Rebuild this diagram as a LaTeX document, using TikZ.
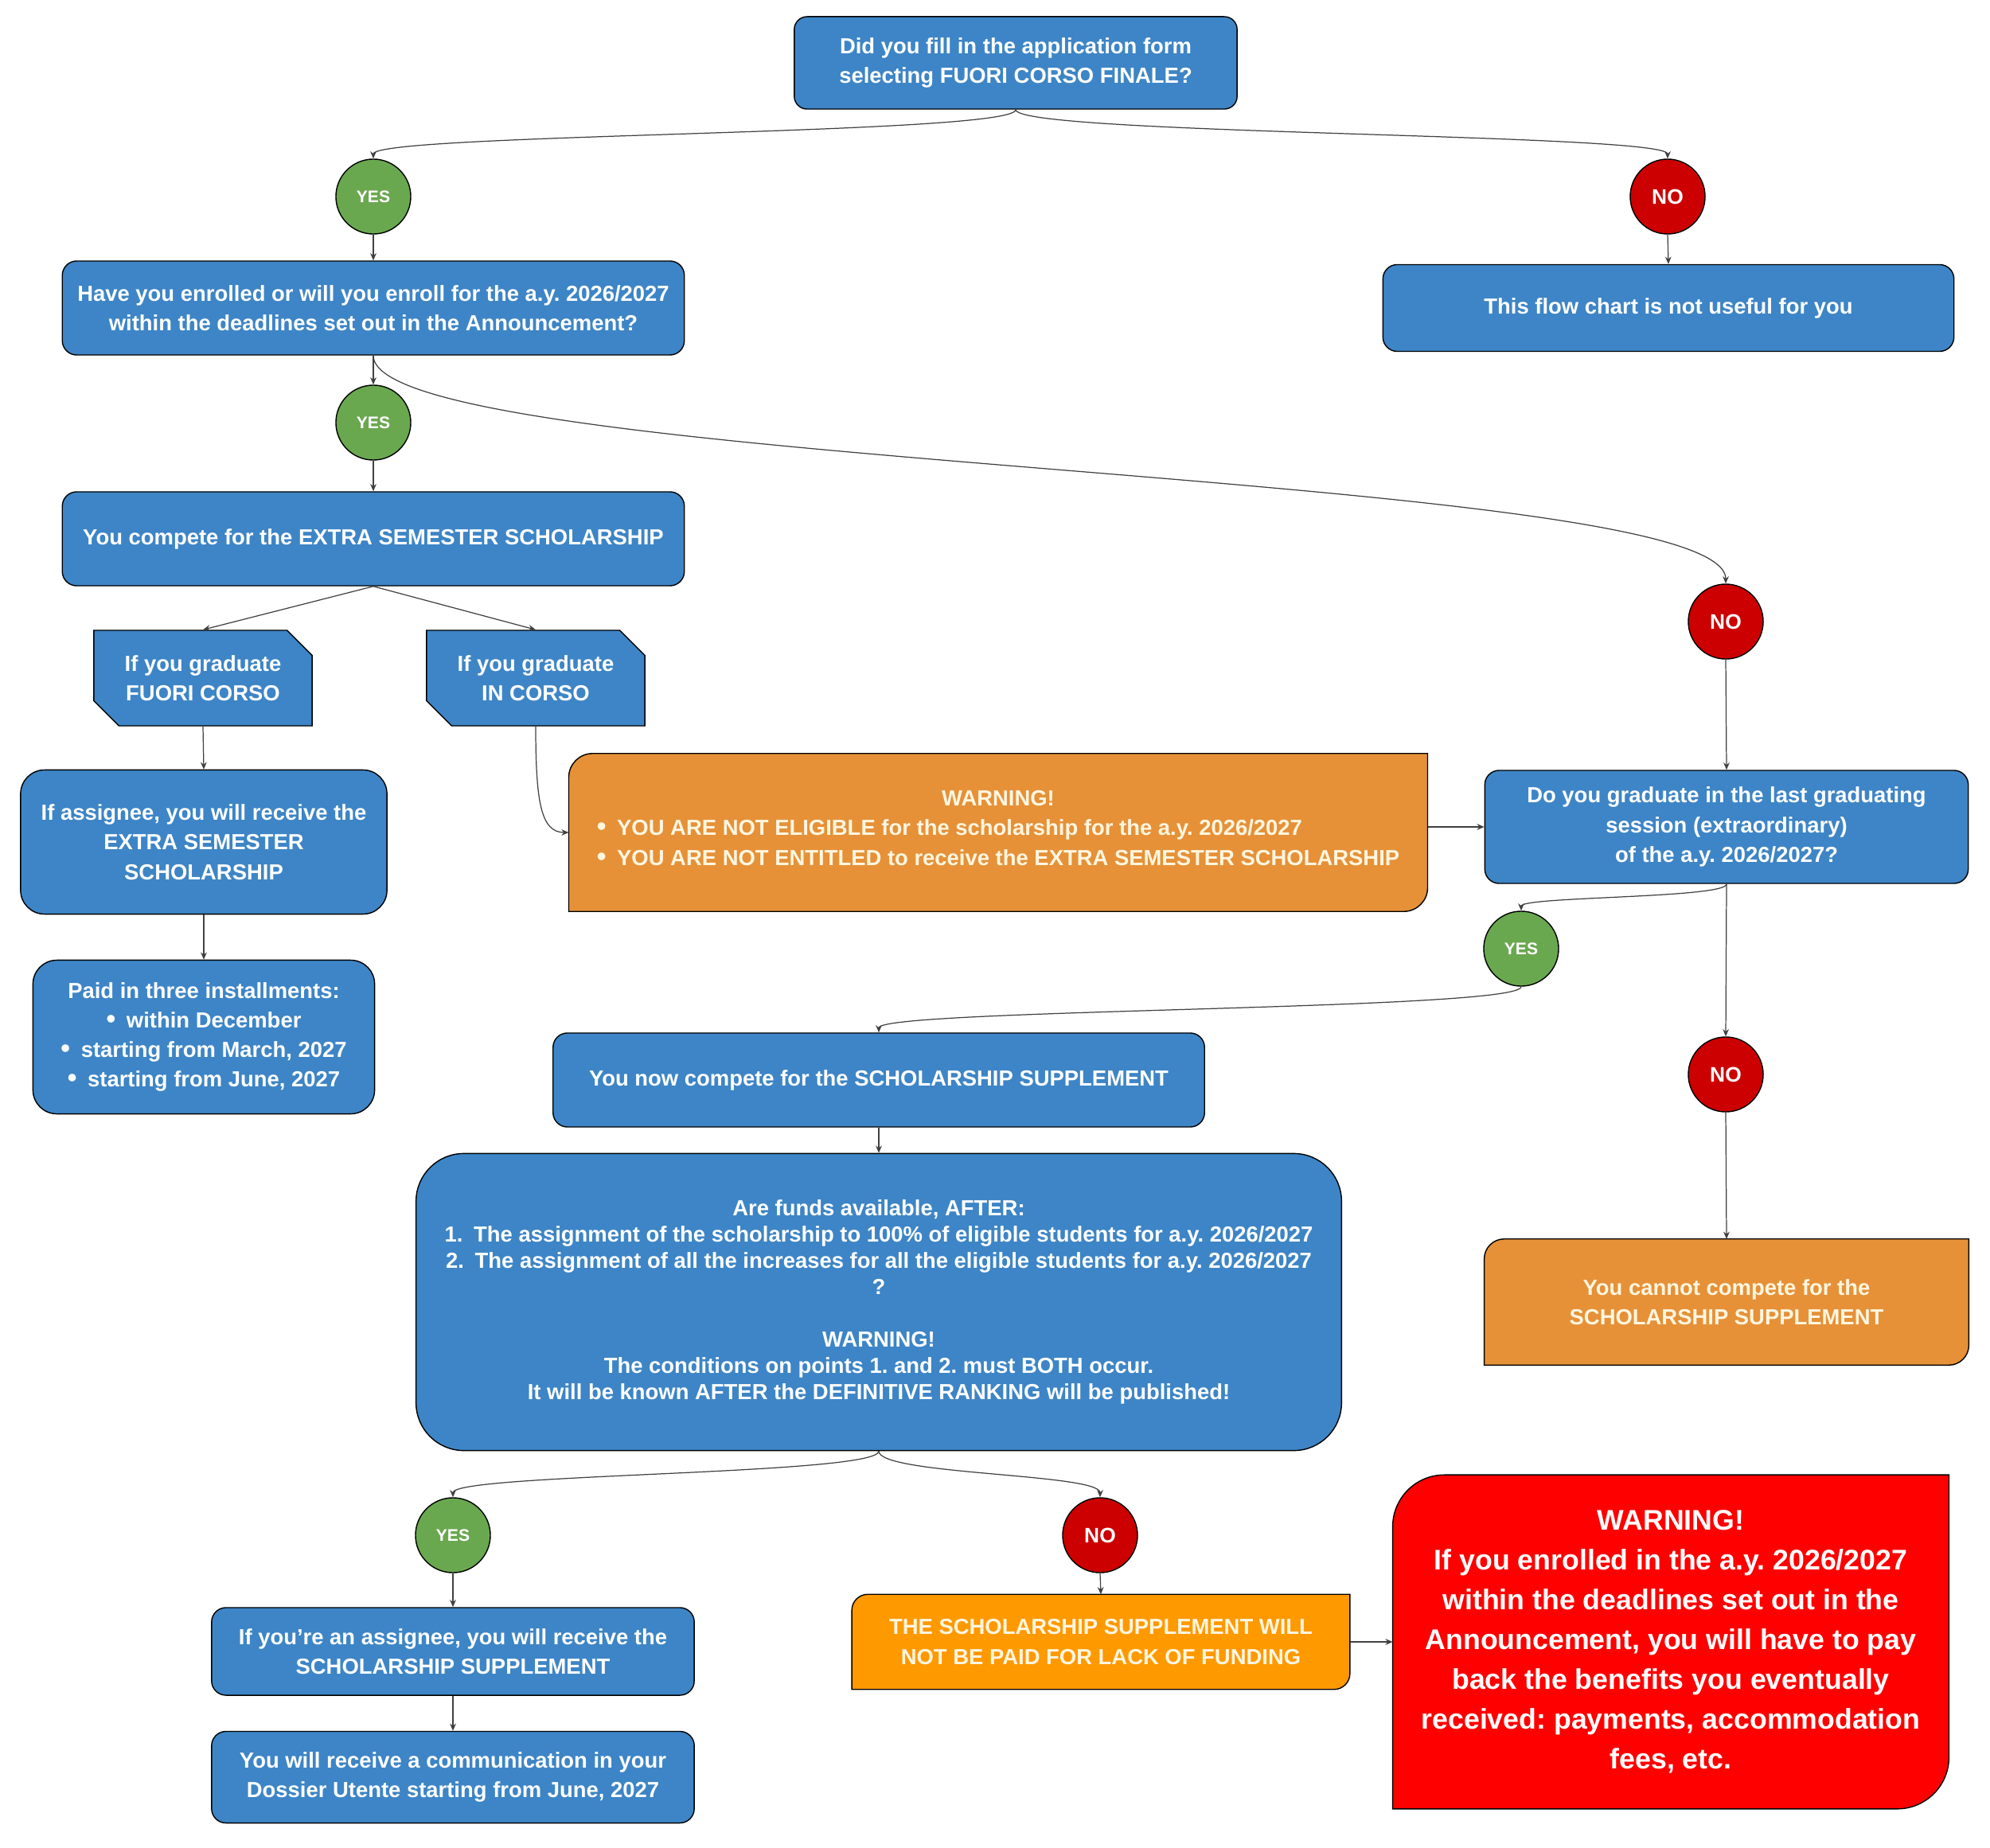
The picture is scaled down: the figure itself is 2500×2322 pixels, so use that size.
\documentclass[tikz,border=0pt]{standalone}
\usepackage{fontspec}
\setmainfont{Liberation Sans}
\usepackage{xcolor}
\usetikzlibrary{arrows.meta, shapes.misc, backgrounds}

\definecolor{boxblue}{HTML}{3D85C6}
\definecolor{yesgreen}{HTML}{6AA84F}
\definecolor{nored}{HTML}{CC0000}
\definecolor{warnorange}{HTML}{E69138}
\definecolor{payorange}{HTML}{FF9900}
\definecolor{alertred}{HTML}{FF0000}
\definecolor{cream}{HTML}{FFF6E0}

\frenchspacing
\newcommand{\boxfont}{\fontsize{7.8}{10.6}\selectfont\bfseries}
\newcommand{\bigfont}{\fontsize{7.8}{9.4}\selectfont\bfseries}
\newcommand{\alertfont}{\fontsize{10.15}{14.2}\selectfont\bfseries}
\newcommand{\bulletmark}{{\fontsize{9.5}{9.5}\selectfont\textbullet}\enspace}

\begin{document}
\begin{tikzpicture}[x=0.01cm, y=0.01cm,
    box/.style={draw=black, line width=0.4pt, fill=boxblue, rounded corners=#1,
        text=white, align=center, font=\boxfont, inner sep=0pt},
    box/.default=0.18cm,
    fold/.style={chamfered rectangle, chamfered rectangle corners={north east, south west},
        chamfered rectangle xsep=0.19cm, draw=black, line width=0.4pt, fill=boxblue,
        text=white, align=center, font=\boxfont, inner sep=0pt},
    leaf/.style={align=center, font=\boxfont, text=cream, inner sep=0pt},
    yesdot/.style={circle, draw=black, line width=0.4pt, fill=yesgreen, minimum size=0.94cm,
        inner sep=0pt, text=white, font=\fontsize{6}{7}\selectfont\bfseries},
    nodot/.style={circle, draw=black, line width=0.4pt, fill=nored, minimum size=0.94cm,
        inner sep=0pt, text=white, font=\fontsize{7.5}{9}\selectfont\bfseries},
    link/.style={draw=black!75, line width=0.35pt, -{Stealth[length=2.6pt, width=2.2pt]}}
]

    % backdrop with two rounded corners (top left, bottom right)
    \NewDocumentCommand{\leafback}{ m m m }{
        \begin{pgfonlayer}{background}
            \filldraw[fill=#2, draw=black, line width=0.4pt]
                ([yshift=-#3]#1.north west) arc[start angle=180, end angle=90, radius=#3]
                -- (#1.north east) -- ([yshift=#3]#1.south east)
                arc[start angle=0, end angle=-90, radius=#3]
                -- (#1.south west) -- cycle;
        \end{pgfonlayer}
    }

    \useasboundingbox (0,0) rectangle (2500,-2322);

    %% First question
    \node[box=0.16cm, minimum width=5.56cm, minimum height=1.16cm] (start) at (1276,-79)
        {Did you fill in the application form\\selecting FUORI CORSO FINALE?};
    \node[yesdot] (yes1) at (469,-247) {YES};
    \node[nodot] (no1) at (2095,-247) {NO};
    \node[box, minimum width=7.81cm, minimum height=1.18cm] (enrol) at (469,-387)
        {Have you enrolled or will you enroll for the a.y. 2026/2027\\within the deadlines set out in the Announcement?};
    \node[box, minimum width=7.17cm, minimum height=1.09cm] (useless) at (2096,-387)
        {This flow chart is not useful for you};

    %% Extra semester
    \node[yesdot] (yes2) at (469,-531) {YES};
    \node[box, minimum width=7.81cm, minimum height=1.18cm] (compete) at (469,-677)
        {You compete for the EXTRA SEMESTER SCHOLARSHIP};
    \node[fold, minimum width=2.74cm, minimum height=1.2cm] (fuori) at (255,-852)
        {If you graduate\\FUORI CORSO};
    \node[fold, minimum width=2.74cm, minimum height=1.2cm] (incorso) at (673,-852)
        {If you graduate\\IN CORSO};
    \node[box=0.3cm, minimum width=4.6cm, minimum height=1.81cm] (assignee) at (256,-1058)
        {If assignee, you will receive the\\EXTRA SEMESTER\\SCHOLARSHIP};
    \node[box=0.3cm, minimum width=4.29cm, minimum height=1.93cm] (paid) at (256,-1303)
        {Paid in three installments:\\\bulletmark within December\\
         \bulletmark starting from March, 2027\\\bulletmark starting from June, 2027};
    \node[leaf, minimum width=10.77cm, minimum height=1.97cm] (notelig) at (1254,-1046)
        {WARNING!\\\begin{tabular}[t]{@{}l@{}}
            \bulletmark YOU ARE NOT ELIGIBLE for the scholarship for the a.y. 2026/2027\\
            \bulletmark YOU ARE NOT ENTITLED to receive the EXTRA SEMESTER SCHOLARSHIP
        \end{tabular}};
    \leafback{notelig}{warnorange}{0.3cm}

    %% Supplement
    \node[nodot] (no2) at (2168,-781) {NO};
    \node[box, minimum width=6.07cm, minimum height=1.42cm] (lastsession) at (2169,-1039)
        {Do you graduate in the last graduating\\session (extraordinary)\\of the a.y. 2026/2027?};
    \node[yesdot] (yes3) at (1911,-1192) {YES};
    \node[nodot] (no3) at (2168,-1350) {NO};
    \node[box, minimum width=8.18cm, minimum height=1.18cm] (supplement) at (1104,-1357)
        {You now compete for the SCHOLARSHIP SUPPLEMENT};
    \node[box=0.6cm, font=\bigfont, minimum width=11.62cm, minimum height=3.73cm] (funds) at (1104,-1636)
        {Are funds available, AFTER:\\
         1.\enspace The assignment of the scholarship to 100\% of eligible students for a.y. 2026/2027\\
         2.\enspace The assignment of all the increases for all the eligible students for a.y. 2026/2027\\
         ?\\[9.4pt]
         WARNING!\\The conditions on points 1. and 2. must BOTH occur.\\
         It will be known AFTER the DEFINITIVE RANKING will be published!};
    \node[leaf, minimum width=6.07cm, minimum height=1.57cm] (cannot) at (2169,-1636)
        {You cannot compete for the\\SCHOLARSHIP SUPPLEMENT};
    \leafback{cannot}{warnorange}{0.25cm}

    %% Outcome
    \node[yesdot] (yes4) at (569,-1929) {YES};
    \node[nodot] (no4) at (1382,-1929) {NO};
    \node[box, minimum width=6.06cm, minimum height=1.1cm] (receive) at (569,-2075)
        {If you’re an assignee, you will receive the\\SCHOLARSHIP SUPPLEMENT};
    \node[box, minimum width=6.06cm, minimum height=1.15cm] (dossier) at (569,-2233)
        {You will receive a communication in your\\Dossier Utente starting from June, 2027};
    \node[leaf, minimum width=6.24cm, minimum height=1.18cm] (nofund) at (1383,-2063)
        {THE SCHOLARSHIP SUPPLEMENT WILL\\NOT BE PAID FOR LACK OF FUNDING};
    \leafback{nofund}{payorange}{0.2cm}
    \node[leaf, text=white, font=\alertfont, minimum width=6.97cm, minimum height=4.18cm] (payback) at (2099,-2063)
        {WARNING!\\If you enrolled in the a.y. 2026/2027\\within the deadlines set out in the\\
         Announcement, you will have to pay\\back the benefits you eventually\\
         received: payments, accommodation\\fees, etc.};
    \leafback{payback}{alertred}{0.65cm}

    % Connectors
    \draw[link] (start.south) .. controls +(0,-32) and +(0,32) .. (yes1.north);
    \draw[link] (start.south) .. controls +(0,-32) and +(0,32) .. (no1.north);
    \draw[link] (yes1.south) -- (enrol.north);
    \draw[link] (no1.south) -- (useless.north);
    \draw[link] (enrol.south) -- (yes2.north);
    \draw[link] (enrol.south) .. controls +(0,-144) and +(0,144) .. (no2.north);
    \draw[link] (yes2.south) -- (compete.north);
    \draw[link] (compete.south) -- (fuori.north);
    \draw[link] (compete.south) -- (incorso.north);
    \draw[link] (fuori.south) -- (assignee.north);
    \draw[link] (assignee.south) -- (paid.north);
    \draw[link] (incorso.south) .. controls +(0,-95) and +(-35,0) .. (notelig.west);
    \draw[link] (notelig.east |- lastsession.west) -- (lastsession.west);
    \draw[link] (no2.south) -- (lastsession.north);
    \draw[link] (lastsession.south) .. controls +(0,-18) and +(0,18) .. (yes3.north);
    \draw[link] (lastsession.south) -- (no3.north);
    \draw[link] (no3.south) -- (cannot.north);
    \draw[link] (yes3.south) .. controls +(0,-30) and +(0,30) .. (supplement.north);
    \draw[link] (supplement.south) -- (funds.north);
    \draw[link] (funds.south) .. controls +(0,-30) and +(0,30) .. (yes4.north);
    \draw[link] (funds.south) .. controls +(0,-30) and +(0,30) .. (no4.north);
    \draw[link] (yes4.south) -- (receive.north);
    \draw[link] (no4.south) -- (nofund.north);
    \draw[link] (receive.south) -- (dossier.north);
    \draw[link] (nofund.east) -- (payback.west |- nofund.east);

\end{tikzpicture}
\end{document}
